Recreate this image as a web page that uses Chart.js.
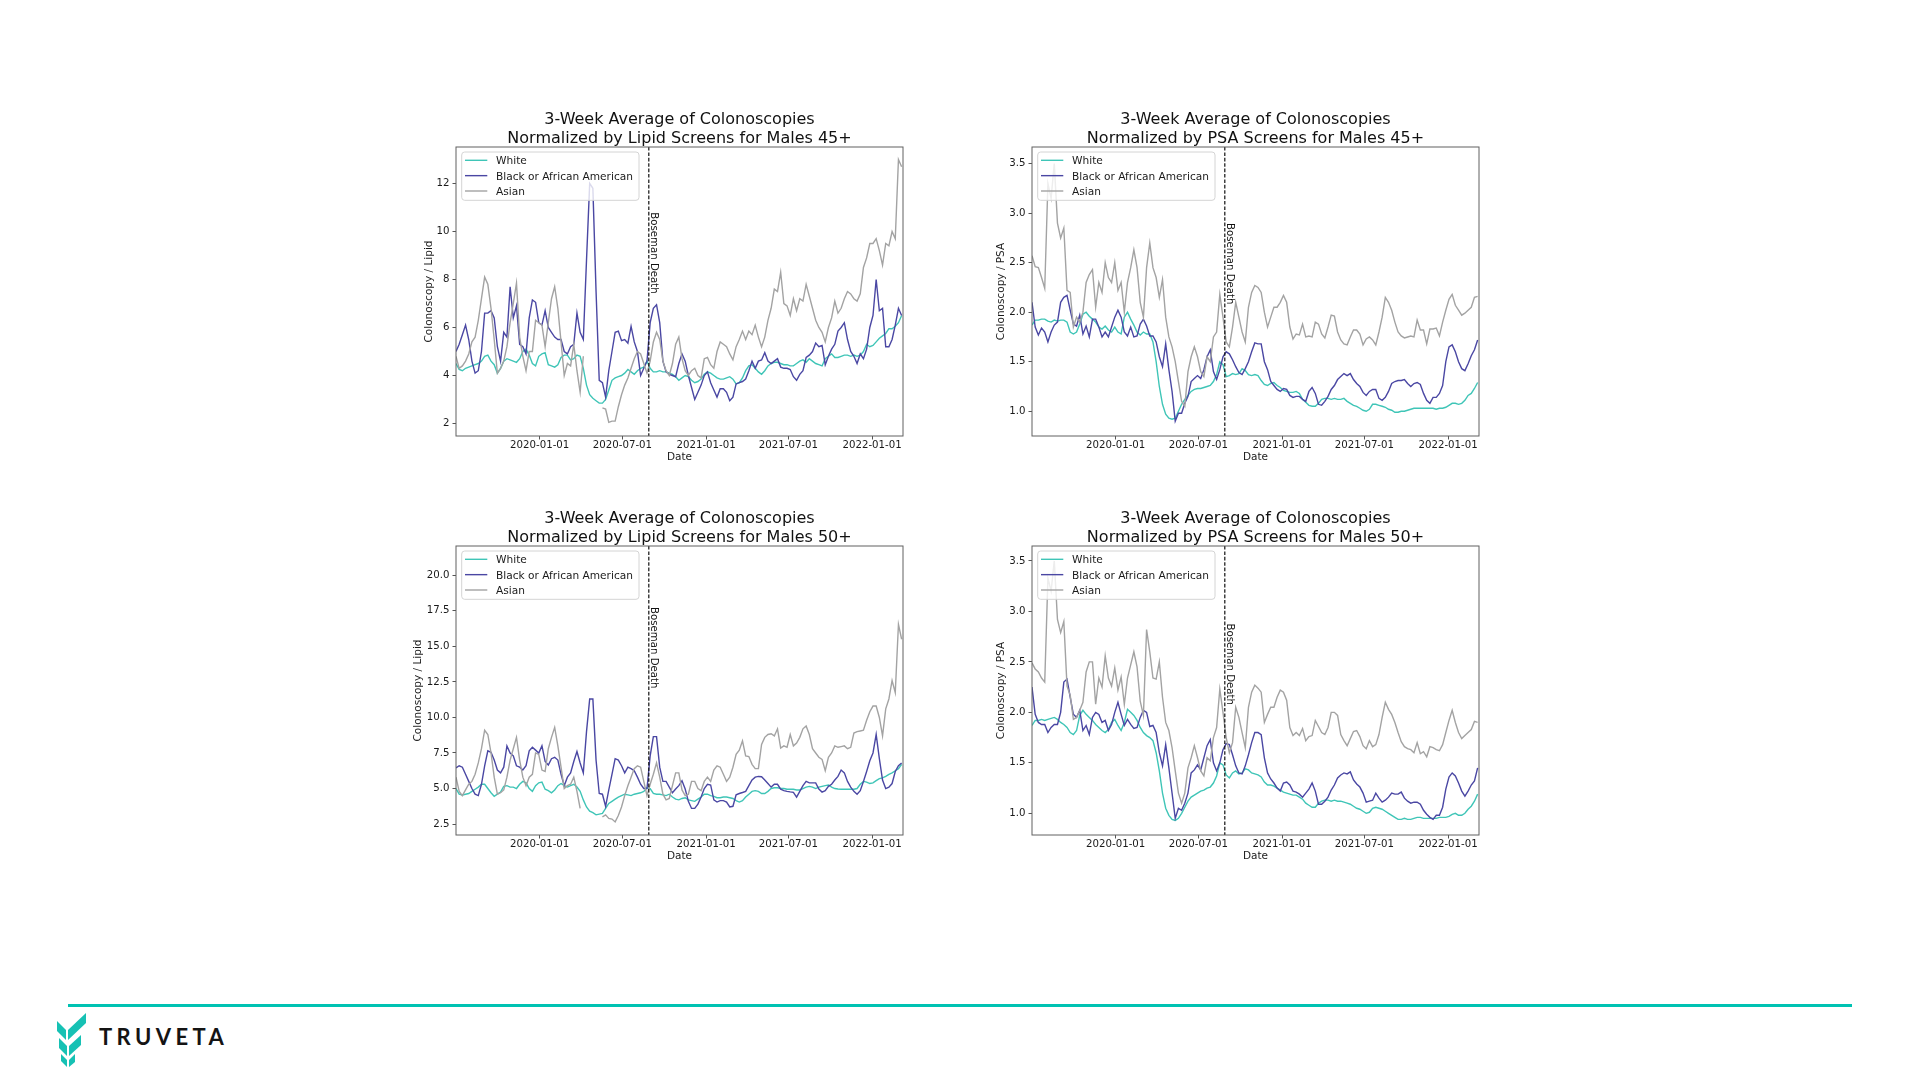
<!DOCTYPE html>
<html>
<head>
<meta charset="utf-8">
<title>3-Week Average of Colonoscopies</title>
<script src="https://cdn.jsdelivr.net/npm/chart.js@4.4.1/dist/chart.umd.min.js"></script>
<style>
  html, body { margin:0; padding:0; background:#ffffff; }
  body { width:1920px; height:1080px; position:relative; overflow:hidden; font-family:"DejaVu Sans", sans-serif; }
  canvas.panel { position:absolute; }
  #rule { position:absolute; left:68px; top:1004px; width:1784px; height:3px; background:#00c2b2; }
  #logo { position:absolute; left:55px; top:1011px; width:36px; height:56px; }
  #brand { position:absolute; left:99px; top:1026px; font-family:Lato, "DejaVu Sans", sans-serif; font-weight:700; font-size:22px; line-height:22px; letter-spacing:4.4px; color:#141414; }
</style>
</head>
<body>
<div id="rule"></div>
<svg id="logo" viewBox="0 0 36 56" xmlns="http://www.w3.org/2000/svg">
  <g fill="#16c1b4">
    <polygon points="2,10 11,19 11,29 2,20"/>
    <polygon points="13,19 31,2 31,12 13,29"/>
    <polygon points="4,27 12,35 12,45 4,37"/>
    <polygon points="14,35 26,24 26,34 14,45"/>
    <polygon points="6,43 12,49 12,56 6,50"/>
    <polygon points="14,49 20,43 20,51 14,56"/>
  </g>
</svg>
<div id="brand">TRUVETA</div>
<script>
// ---------------- data ----------------
const weekDates = [
 '2019-07-01','2019-07-08','2019-07-15','2019-07-22','2019-07-29','2019-08-05','2019-08-12','2019-08-19','2019-08-26','2019-09-02',
 '2019-09-09','2019-09-16','2019-09-23','2019-09-30','2019-10-07','2019-10-14','2019-10-21','2019-10-28','2019-11-04','2019-11-11',
 '2019-11-18','2019-11-25','2019-12-02','2019-12-09','2019-12-16','2019-12-23','2019-12-30','2020-01-06','2020-01-13','2020-01-20',
 '2020-01-27','2020-02-03','2020-02-10','2020-02-17','2020-02-24','2020-03-02','2020-03-09','2020-03-16','2020-03-23','2020-03-30',
 '2020-04-06','2020-04-13','2020-04-20','2020-04-27','2020-05-04','2020-05-11','2020-05-18','2020-05-25','2020-06-01','2020-06-08',
 '2020-06-15','2020-06-22','2020-06-29','2020-07-06','2020-07-13','2020-07-20','2020-07-27','2020-08-03','2020-08-10','2020-08-17',
 '2020-08-24','2020-08-31','2020-09-07','2020-09-14','2020-09-21','2020-09-28','2020-10-05','2020-10-12','2020-10-19','2020-10-26',
 '2020-11-02','2020-11-09','2020-11-16','2020-11-23','2020-11-30','2020-12-07','2020-12-14','2020-12-21','2020-12-28','2021-01-04',
 '2021-01-11','2021-01-18','2021-01-25','2021-02-01','2021-02-08','2021-02-15','2021-02-22','2021-03-01','2021-03-08','2021-03-15',
 '2021-03-22','2021-03-29','2021-04-05','2021-04-12','2021-04-19','2021-04-26','2021-05-03','2021-05-10','2021-05-17','2021-05-24',
 '2021-05-31','2021-06-07','2021-06-14','2021-06-21','2021-06-28','2021-07-05','2021-07-12','2021-07-19','2021-07-26','2021-08-02',
 '2021-08-09','2021-08-16','2021-08-23','2021-08-30','2021-09-06','2021-09-13','2021-09-20','2021-09-27','2021-10-04','2021-10-11',
 '2021-10-18','2021-10-25','2021-11-01','2021-11-08','2021-11-15','2021-11-22','2021-11-29','2021-12-06','2021-12-13','2021-12-20',
 '2021-12-27','2022-01-03','2022-01-10','2022-01-17','2022-01-24','2022-01-31','2022-02-07','2022-02-14','2022-02-21','2022-02-28',
 '2022-03-07'
];
const xAxisStart = '2019-07-01';
const xAxisEnd = '2022-03-10';
const xTickDates = ['2020-01-01','2020-07-01','2021-01-01','2021-07-01','2022-01-01'];
const seriesNames = ['White','Black or African American','Asian'];
const bosemanDate = '2020-08-28';
const annotationText = 'Boseman Death';
const titleLine1 = '3-Week Average of Colonoscopies';
const panelTitles = [
  'Normalized by Lipid Screens for Males 45+',
  'Normalized by PSA Screens for Males 45+',
  'Normalized by Lipid Screens for Males 50+',
  'Normalized by PSA Screens for Males 50+'
];
const yAxisTitles = ['Colonoscopy / Lipid','Colonoscopy / PSA','Colonoscopy / Lipid','Colonoscopy / PSA'];
const xAxisTitle = 'Date';
const lipid45Ticks = [2, 4, 6, 8, 10, 12];
const psaTicks = [1.0, 1.5, 2.0, 2.5, 3.0, 3.5];
const lipid50Ticks = [2.5, 5.0, 7.5, 10.0, 12.5, 15.0, 17.5, 20.0];

// Panel 1: Lipid, males 45+
const lipid45White = [
 4.5,4.25,4.2,4.3,4.35,4.4,4.45,4.5,4.6,4.8,
 4.85,4.6,4.45,4.1,4.3,4.6,4.7,4.65,4.6,4.55,
 4.7,5.0,5.1,4.85,4.5,4.4,4.8,4.9,4.95,4.45,
 4.4,4.35,4.45,4.75,4.85,4.85,4.65,4.7,4.85,4.8,
 4.3,3.6,3.2,3.05,2.95,2.85,2.85,3.0,3.4,3.8,
 3.9,3.95,4.0,4.1,4.25,4.15,4.05,4.2,4.3,4.35,
 4.6,4.3,4.15,4.15,4.2,4.15,4.15,4.1,4.05,3.95,
 3.8,3.9,4.0,3.95,3.8,3.7,3.75,3.85,4.05,4.15,
 4.1,4.0,3.9,3.85,3.85,3.9,3.95,3.85,3.65,3.7,
 3.9,4.2,4.4,4.45,4.3,4.15,4.05,4.2,4.4,4.5,
 4.55,4.55,4.5,4.45,4.45,4.4,4.4,4.5,4.6,4.65,
 4.55,4.7,4.6,4.5,4.45,4.4,4.7,4.8,4.9,4.75,
 4.75,4.8,4.85,4.85,4.8,4.85,4.8,4.85,5.0,5.3,
 5.2,5.25,5.4,5.55,5.65,5.75,5.95,5.95,6.05,6.2,6.5
];
const lipid45Black = [
 5.0,5.3,5.7,6.1,5.5,4.6,4.1,4.2,5.0,6.6,
 6.6,6.7,6.4,5.2,4.6,5.8,5.6,7.7,6.4,6.9,
 5.3,5.2,4.9,6.4,7.15,7.05,6.2,6.1,6.7,6.0,
 5.8,5.6,5.5,5.5,5.0,4.9,5.2,5.3,6.6,5.8,
 5.5,8.8,12.0,11.8,7.5,3.8,3.7,3.1,4.2,5.0,
 5.8,5.85,5.45,5.5,5.35,6.05,5.4,5.0,4.0,4.3,
 4.6,6.2,6.8,6.95,6.2,4.6,4.15,4.05,4.0,3.95,
 4.5,4.9,4.6,4.0,3.5,3.0,3.3,3.6,4.0,4.15,
 3.7,3.4,3.1,3.45,3.45,3.3,2.95,3.1,3.65,3.7,
 3.75,3.85,4.2,4.6,4.3,4.6,4.65,4.95,4.6,4.5,
 4.6,4.7,4.35,4.3,4.3,4.25,3.95,3.8,4.05,4.2,
 4.75,4.85,5.0,5.35,5.2,5.25,4.45,4.8,5.1,5.3,
 5.85,6.0,6.2,5.5,5.0,4.8,4.5,4.9,4.7,5.1,
 6.0,6.5,8.0,6.7,6.8,5.2,5.2,5.5,6.1,6.8,6.5
];
const lipid45Asian = [
 4.8,4.3,4.4,4.6,4.9,5.4,5.6,6.3,7.2,8.1,
 7.8,6.8,5.5,4.1,4.3,4.6,5.2,6.2,7.0,7.85,
 5.6,4.8,4.2,5.0,5.0,6.3,6.2,6.1,5.2,6.2,
 7.2,7.7,6.8,5.4,4.0,4.5,4.4,5.3,4.2,3.3,
 4.8,null,null,null,null,null,2.65,2.6,2.05,2.1,
 2.1,2.7,3.2,3.6,3.9,4.3,4.7,5.0,4.9,4.5,
 4.1,4.6,5.4,5.8,5.5,4.6,4.2,4.0,4.5,5.3,
 5.6,4.7,4.2,4.0,4.2,4.3,4.0,3.9,4.7,4.75,
 4.45,4.3,5.0,5.4,5.3,5.2,4.9,4.65,5.2,5.5,
 5.85,5.5,5.85,5.7,6.1,5.6,5.2,5.6,6.3,6.8,
 7.6,7.5,8.3,7.0,6.9,6.5,7.2,6.7,7.2,7.1,
 7.8,7.3,6.8,6.3,6.0,5.8,5.4,6.0,6.4,7.1,
 6.6,6.8,7.2,7.5,7.4,7.2,7.1,7.4,8.5,8.9,
 9.5,9.5,9.7,9.2,8.6,9.5,9.4,10.0,9.7,13.0,12.7
];

// Panel 2: PSA, males 45+
const psa45White = [
 1.87,1.92,1.92,1.93,1.93,1.91,1.9,1.92,1.91,1.92,
 1.92,1.9,1.8,1.78,1.8,1.88,1.98,2.0,1.96,1.93,
 1.9,1.85,1.83,1.86,1.82,1.8,1.85,1.8,1.78,1.95,
 2.0,1.93,1.87,1.8,1.77,1.8,1.78,1.78,1.7,1.5,
 1.25,1.07,0.97,0.93,0.92,0.93,1.0,1.07,1.12,1.16,
 1.2,1.22,1.23,1.23,1.24,1.25,1.26,1.3,1.37,1.5,
 1.47,1.35,1.36,1.38,1.37,1.38,1.43,1.41,1.37,1.36,
 1.37,1.36,1.31,1.27,1.26,1.28,1.29,1.26,1.24,1.21,
 1.2,1.19,1.19,1.2,1.18,1.12,1.09,1.06,1.05,1.05,
 1.08,1.12,1.13,1.13,1.12,1.13,1.12,1.12,1.13,1.1,
 1.08,1.06,1.05,1.03,1.01,1.0,1.02,1.07,1.07,1.06,
 1.05,1.04,1.02,1.01,0.99,0.99,1.0,1.0,1.01,1.02,
 1.03,1.03,1.03,1.03,1.03,1.03,1.03,1.02,1.03,1.03,
 1.04,1.06,1.08,1.08,1.07,1.08,1.11,1.16,1.18,1.23,1.29
];
const psa45Black = [
 2.1,1.85,1.77,1.84,1.8,1.7,1.8,1.87,1.9,2.1,
 2.15,2.17,2.02,1.88,1.86,1.97,1.78,1.86,1.75,1.93,
 1.93,1.85,1.75,1.8,1.75,1.85,1.95,2.02,1.95,1.8,
 1.76,1.85,1.75,1.76,1.88,1.93,1.86,1.76,1.76,1.7,
 1.55,1.45,1.68,1.42,1.2,0.9,0.98,0.98,1.08,1.15,
 1.3,1.33,1.36,1.33,1.42,1.55,1.62,1.4,1.32,1.42,
 1.55,1.6,1.58,1.52,1.45,1.39,1.37,1.43,1.5,1.6,
 1.69,1.68,1.68,1.5,1.42,1.3,1.26,1.22,1.2,1.23,
 1.22,1.16,1.14,1.15,1.15,1.12,1.1,1.2,1.24,1.18,
 1.07,1.06,1.1,1.15,1.22,1.26,1.32,1.35,1.38,1.36,
 1.38,1.32,1.28,1.25,1.19,1.16,1.2,1.22,1.22,1.13,
 1.11,1.14,1.2,1.28,1.3,1.31,1.31,1.32,1.28,1.25,
 1.28,1.29,1.27,1.18,1.11,1.08,1.14,1.14,1.18,1.26,
 1.5,1.65,1.67,1.6,1.5,1.43,1.41,1.48,1.56,1.62,1.72
];
const psa45Asian = [
 2.57,2.46,2.45,2.35,2.24,3.3,3.15,3.5,2.9,2.75,
 2.85,2.22,2.2,1.85,1.95,1.9,2.0,2.3,2.38,2.43,
 2.05,2.3,2.2,2.5,2.35,2.3,2.5,2.22,2.3,2.0,
 2.3,2.45,2.63,2.45,2.1,1.95,2.45,2.7,2.45,2.35,
 2.15,2.33,1.95,1.75,1.65,1.5,1.3,1.1,1.05,1.4,
 1.55,1.65,1.55,1.4,1.35,1.55,1.5,1.75,1.8,2.18,
 1.95,1.7,1.65,1.85,2.1,1.95,1.8,1.7,2.05,2.2,
 2.27,2.25,2.2,2.0,1.85,1.95,2.05,2.05,2.1,2.17,
 2.1,1.85,1.73,1.78,1.77,1.88,1.75,1.76,1.75,1.9,
 1.88,1.78,1.74,1.85,1.97,1.96,1.8,1.72,1.68,1.67,
 1.75,1.82,1.82,1.78,1.67,1.73,1.75,1.72,1.67,1.8,
 1.95,2.15,2.1,2.02,1.9,1.8,1.76,1.74,1.75,1.76,
 1.75,1.92,1.82,1.82,1.68,1.83,1.83,1.84,1.76,1.9,
 2.02,2.13,2.18,2.07,2.02,1.97,1.99,2.02,2.05,2.15,2.16
];

// Panel 3: Lipid, males 50+
const lipid50White = [
 5.0,4.6,4.55,4.6,4.65,4.8,4.95,5.1,5.3,5.3,
 5.0,4.7,4.45,4.6,4.75,5.15,5.2,5.1,5.1,5.0,
 5.3,5.5,5.4,5.0,4.8,5.2,5.4,5.45,4.95,4.85,
 4.7,4.9,5.2,5.35,5.2,5.1,5.2,5.3,5.1,4.8,
 4.2,3.7,3.4,3.3,3.15,3.2,3.25,3.6,3.95,4.1,
 4.25,4.4,4.5,4.6,4.55,4.5,4.6,4.65,4.7,4.8,
 5.05,5.0,4.65,4.6,4.6,4.55,4.5,4.6,4.4,4.25,
 4.2,4.3,4.35,4.2,4.15,4.1,4.25,4.4,4.6,4.6,
 4.5,4.45,4.35,4.35,4.4,4.4,4.35,4.3,4.15,4.05,
 4.15,4.4,4.6,4.8,4.85,4.8,4.65,4.65,4.8,5.0,
 5.05,5.05,5.0,5.0,4.95,4.95,4.95,4.9,4.9,5.0,
 5.1,5.15,5.1,5.0,5.1,5.15,5.2,5.25,5.1,5.0,
 4.97,4.95,4.95,4.95,4.95,4.95,5.0,5.3,5.5,5.45,
 5.35,5.4,5.55,5.7,5.75,5.85,6.0,6.1,6.25,6.4,6.7
];
const lipid50Black = [
 6.45,6.6,6.5,6.0,5.5,5.0,4.6,4.5,5.3,6.6,
 7.65,7.55,7.0,6.3,6.1,6.5,8.0,7.5,7.3,6.6,
 6.5,6.3,6.6,7.65,7.9,7.7,7.5,8.0,6.9,6.65,
 7.1,7.2,7.0,6.0,5.2,5.8,6.1,6.9,7.6,6.8,
 6.1,9.0,11.3,11.3,7.0,4.65,4.6,3.75,4.9,6.0,
 7.1,7.0,6.6,6.1,6.5,6.4,6.25,5.8,5.3,5.0,
 5.0,7.3,8.65,8.65,6.5,5.5,5.5,5.1,4.7,4.96,
 5.2,5.55,4.96,4.1,3.6,3.6,3.9,4.4,5.0,5.3,
 5.25,4.2,4.05,4.15,4.15,4.05,3.7,3.75,4.56,4.65,
 4.72,4.8,5.2,5.6,5.8,5.85,5.83,5.6,5.35,5.1,
 5.3,5.3,4.96,4.85,4.8,4.76,4.73,4.4,4.8,5.2,
 5.5,5.4,5.4,5.4,4.96,4.75,4.85,5.15,5.3,5.6,
 5.85,6.3,6.1,5.5,5.1,4.8,4.6,4.85,5.5,6.2,
 6.95,7.5,8.8,7.1,5.6,5.0,5.1,5.35,6.2,6.6,6.8
];
const lipid50Asian = [
 5.8,4.8,4.5,4.9,5.3,5.5,6.0,6.8,7.8,9.1,
 8.8,7.5,5.8,4.6,4.7,4.9,5.8,7.0,7.8,8.6,
 7.0,5.8,5.2,5.8,6.0,7.5,7.4,6.3,6.2,7.8,
 8.6,9.3,8.0,6.5,5.0,5.2,5.3,5.8,4.8,3.6,
 null,null,null,null,null,null,3.0,3.15,2.9,2.85,
 2.65,3.1,3.7,4.5,5.2,5.8,6.4,6.6,6.5,5.5,
 4.5,5.3,6.0,6.8,5.8,4.6,4.2,4.3,5.2,6.1,
 6.1,4.9,4.5,4.6,5.5,5.5,5.0,4.85,5.5,5.8,
 5.5,6.3,6.6,6.5,6.0,5.5,5.8,6.5,7.4,7.7,
 8.35,7.3,7.25,6.7,6.4,6.4,8.1,8.6,8.8,8.85,
 8.7,9.2,7.85,8.0,7.9,8.8,8.0,8.2,8.6,9.2,
 9.4,8.8,7.8,7.5,7.2,7.05,6.25,7.2,7.5,8.0,
 7.9,7.95,8.0,7.8,7.9,8.9,9.0,9.05,9.1,9.8,
 10.4,10.8,10.8,10.0,8.7,10.6,11.3,12.6,11.75,16.55,15.5
];

// Panel 4: PSA, males 50+
const psa50White = [
 1.87,1.92,1.92,1.93,1.92,1.93,1.94,1.95,1.93,1.9,
 1.88,1.85,1.8,1.78,1.82,1.97,2.02,1.98,1.95,1.92,
 1.88,1.85,1.82,1.8,1.83,1.9,1.93,1.87,1.82,1.9,
 2.03,2.0,1.97,1.92,1.85,1.8,1.77,1.75,1.72,1.6,
 1.42,1.2,1.05,0.98,0.94,0.93,0.95,1.0,1.06,1.12,
 1.16,1.18,1.2,1.22,1.23,1.25,1.26,1.3,1.37,1.5,
 1.48,1.38,1.35,1.4,1.42,1.39,1.4,1.44,1.43,1.4,
 1.39,1.38,1.36,1.31,1.28,1.28,1.27,1.25,1.23,1.21,
 1.2,1.19,1.18,1.18,1.16,1.14,1.1,1.08,1.06,1.06,
 1.1,1.12,1.13,1.13,1.12,1.13,1.12,1.12,1.11,1.1,
 1.09,1.07,1.05,1.04,1.02,1.0,1.01,1.05,1.06,1.05,
 1.04,1.02,1.0,0.98,0.96,0.94,0.94,0.95,0.94,0.94,
 0.95,0.96,0.96,0.95,0.95,0.95,0.95,0.95,0.96,0.96,
 0.96,0.97,0.99,1.0,0.98,0.98,1.0,1.04,1.07,1.12,1.19
];
const psa50Black = [
 2.25,1.98,1.9,1.88,1.88,1.8,1.85,1.88,1.88,2.0,
 2.3,2.33,2.15,1.98,1.95,2.02,1.82,1.87,1.78,1.95,
 2.0,1.98,1.9,1.92,1.82,1.88,2.0,2.1,1.98,1.87,
 1.93,1.88,1.84,1.85,1.95,2.02,2.0,1.86,1.87,1.8,
 1.6,1.47,1.68,1.45,1.2,0.95,1.05,1.03,1.1,1.2,
 1.4,1.43,1.48,1.43,1.55,1.67,1.73,1.5,1.42,1.5,
 1.63,1.69,1.68,1.58,1.47,1.4,1.39,1.47,1.58,1.7,
 1.8,1.8,1.78,1.55,1.4,1.34,1.3,1.25,1.22,1.3,
 1.31,1.28,1.22,1.21,1.19,1.16,1.2,1.24,1.3,1.22,
 1.09,1.09,1.12,1.16,1.23,1.28,1.35,1.38,1.4,1.39,
 1.41,1.33,1.29,1.26,1.2,1.11,1.12,1.13,1.2,1.15,
 1.11,1.13,1.16,1.2,1.19,1.19,1.21,1.15,1.12,1.1,
 1.11,1.11,1.09,1.03,0.99,0.96,0.94,0.98,0.98,1.06,
 1.24,1.36,1.4,1.37,1.3,1.22,1.17,1.22,1.28,1.32,1.45
];
const psa50Asian = [
 2.49,2.43,2.4,2.34,2.3,3.33,3.2,3.5,2.92,2.79,
 2.9,2.26,2.17,1.93,1.95,2.02,2.1,2.4,2.5,2.5,
 2.08,2.34,2.25,2.56,2.34,2.26,2.44,2.22,2.35,2.08,
 2.34,2.47,2.6,2.45,2.11,1.97,2.82,2.6,2.34,2.33,
 2.5,2.15,1.9,1.82,1.65,1.42,1.2,1.1,1.2,1.45,
 1.55,1.67,1.55,1.42,1.37,1.55,1.52,1.75,1.85,2.23,
 2.0,1.75,1.6,1.7,2.05,1.95,1.8,1.65,2.05,2.2,
 2.27,2.24,2.2,1.9,1.98,2.05,2.05,2.15,2.22,2.2,
 2.12,1.85,1.77,1.8,1.77,1.84,1.72,1.76,1.77,1.92,
 1.86,1.8,1.78,1.85,2.0,2.0,1.97,1.78,1.72,1.67,
 1.74,1.81,1.82,1.76,1.67,1.64,1.72,1.66,1.68,1.78,
 1.95,2.1,2.03,1.98,1.9,1.8,1.71,1.66,1.64,1.63,
 1.6,1.7,1.59,1.61,1.56,1.66,1.65,1.63,1.62,1.68,
 1.8,1.92,2.02,1.9,1.8,1.74,1.77,1.8,1.83,1.91,1.9
];

// ---------------- layout / style ----------------
const seriesColors = ['#3fc5b7', '#4a47a3', '#a3a3a3'];
const panels = [
  { plot:[456,147,903,436],   yMin:1.48,  yMax:13.52, ticks:lipid45Ticks, dec:0, yTitleX:429,   annotY:10.8,
    series:[lipid45White, lipid45Black, lipid45Asian] },
  { plot:[1032,147,1479,436], yMin:0.75,  yMax:3.668, ticks:psaTicks,     dec:1, yTitleX:1001.7, annotY:2.9,
    series:[psa45White, psa45Black, psa45Asian] },
  { plot:[456,546,903,835],   yMin:1.73,  yMax:22.06, ticks:lipid50Ticks, dec:1, yTitleX:418.3, annotY:17.77,
    series:[lipid50White, lipid50Black, lipid50Asian] },
  { plot:[1032,546,1479,835], yMin:0.785, yMax:3.648, ticks:psaTicks,     dec:1, yTitleX:1001.7, annotY:2.88,
    series:[psa50White, psa50Black, psa50Asian] }
];
const PAD_L = 90, PAD_T = 60, PAD_R = 15, PAD_B = 45;
const TICK_FONT = 10.2;

Chart.defaults.font.family = '"DejaVu Sans", sans-serif';
Chart.defaults.color = '#1a1a1a';

const weekTimes = weekDates.map(d => Date.parse(d));

const panelDecor = {
  id: 'panelDecor',
  afterDatasetsDraw(chart, args, o) {
    const ctx = chart.ctx, a = chart.chartArea;
    const xs = chart.scales.x, ys = chart.scales.y;
    ctx.save();
    // vertical event line
    const bx = xs.getPixelForValue(Date.parse(bosemanDate));
    ctx.beginPath();
    ctx.setLineDash([3.6, 1.8]);
    ctx.lineWidth = 1.2;
    ctx.strokeStyle = '#111111';
    ctx.moveTo(bx, a.top); ctx.lineTo(bx, a.bottom);
    ctx.stroke();
    ctx.setLineDash([]);
    // event label
    ctx.save();
    ctx.translate(bx + 2.3, ys.getPixelForValue(o.annotY));
    ctx.rotate(Math.PI / 2);
    ctx.font = '10.2px "DejaVu Sans"';
    ctx.fillStyle = '#111111';
    ctx.textAlign = 'left';
    ctx.textBaseline = 'alphabetic';
    ctx.fillText(annotationText, 0, 0);
    ctx.restore();
    // legend (inside, upper-left)
    const L = a.left + 5.7, T = a.top + 5, W = 177.3, H = 48.3, r = 3;
    ctx.beginPath();
    if (ctx.roundRect) ctx.roundRect(L, T, W, H, r); else ctx.rect(L, T, W, H);
    ctx.fillStyle = 'rgba(255,255,255,0.8)';
    ctx.fill();
    ctx.lineWidth = 1;
    ctx.strokeStyle = '#d4d4d4';
    ctx.stroke();
    chart.data.datasets.forEach((ds, k) => {
      const cy = a.top + 13.3 + k * 15.35;
      ctx.beginPath();
      ctx.strokeStyle = ds.borderColor;
      ctx.lineWidth = ds.borderWidth;
      ctx.moveTo(a.left + 9, cy); ctx.lineTo(a.left + 31.3, cy);
      ctx.stroke();
      ctx.fillStyle = '#1a1a1a';
      ctx.font = '10.6px "DejaVu Sans"';
      ctx.textAlign = 'left';
      ctx.textBaseline = 'alphabetic';
      ctx.fillText(ds.label, a.left + 40, cy + 4.0);
    });
    // axes frame
    ctx.strokeStyle = '#606060';
    ctx.lineWidth = 1;
    ctx.strokeRect(a.left, a.top, a.right - a.left, a.bottom - a.top);
    // two-line title
    ctx.fillStyle = '#111111';
    ctx.font = '16px "DejaVu Sans"';
    ctx.textAlign = 'center';
    ctx.textBaseline = 'alphabetic';
    const cx = (a.left + a.right) / 2;
    ctx.fillText(titleLine1, cx, a.top - 23.4);
    ctx.fillText(o.title, cx, a.top - 4.4);
    ctx.restore();
  }
};

panels.forEach((p, idx) => {
  const [l, t, r, b] = p.plot;
  const cv = document.createElement('canvas');
  cv.className = 'panel';
  const cw = (r - l) + PAD_L + PAD_R, ch = (b - t) + PAD_T + PAD_B;
  cv.width = cw; cv.height = ch;
  cv.style.left = (l - PAD_L) + 'px';
  cv.style.top = (t - PAD_T) + 'px';
  cv.style.width = cw + 'px';
  cv.style.height = ch + 'px';
  document.body.appendChild(cv);

  const datasets = p.series.map((vals, k) => ({
    label: seriesNames[k],
    data: vals.map((v, j) => ({ x: weekTimes[j], y: v })),
    borderColor: seriesColors[k],
    backgroundColor: seriesColors[k],
    borderWidth: 1.4,
    pointRadius: 0,
    pointHoverRadius: 0,
    tension: 0,
    spanGaps: false,
    fill: false,
    order: 2 - k
  }));

  new Chart(cv, {
    type: 'line',
    data: { datasets },
    options: {
      responsive: false,
      animation: false,
      devicePixelRatio: 1,
      events: [],
      layout: { autoPadding: false, padding: { left: 0, top: PAD_T, right: PAD_R, bottom: 0 } },
      plugins: {
        legend: { display: false },
        tooltip: { enabled: false },
        title: { display: false },
        panelDecor: { annotY: p.annotY, title: panelTitles[idx] }
      },
      scales: {
        x: {
          type: 'linear',
          bounds: 'data',
          min: Date.parse(xAxisStart),
          max: Date.parse(xAxisEnd),
          afterBuildTicks: s => { s.ticks = xTickDates.map(d => ({ value: Date.parse(d) })); },
          afterFit: s => { s.height = PAD_B; },
          ticks: {
            callback: (v, i) => xTickDates[i],
            autoSkip: false, maxRotation: 0, minRotation: 0,
            font: { size: TICK_FONT }, color: '#1a1a1a', padding: 0
          },
          grid: { display: true, drawOnChartArea: false, drawTicks: true, tickLength: 3.5, color: '#555555' },
          border: { display: false },
          title: { display: true, text: xAxisTitle, font: { size: 10.5 }, color: '#1a1a1a', padding: { top: 0, bottom: 17.2 } }
        },
        y: {
          type: 'linear',
          bounds: 'data',
          min: p.yMin,
          max: p.yMax,
          afterBuildTicks: s => { s.ticks = p.ticks.map(v => ({ value: v })); },
          afterFit: s => { s.width = PAD_L; },
          ticks: {
            callback: (v) => Number(v).toFixed(p.dec),
            autoSkip: false, font: { size: TICK_FONT }, color: '#1a1a1a', padding: 3
          },
          grid: { display: true, drawOnChartArea: false, drawTicks: true, tickLength: 3.5, color: '#555555' },
          border: { display: false },
          title: { display: true, text: yAxisTitles[idx], font: { size: 10.5 }, color: '#1a1a1a',
                   padding: { top: p.yTitleX - (l - PAD_L) - 6.3, bottom: 0 } }
        }
      }
    },
    plugins: [panelDecor]
  });
});
</script>
</body>
</html>
